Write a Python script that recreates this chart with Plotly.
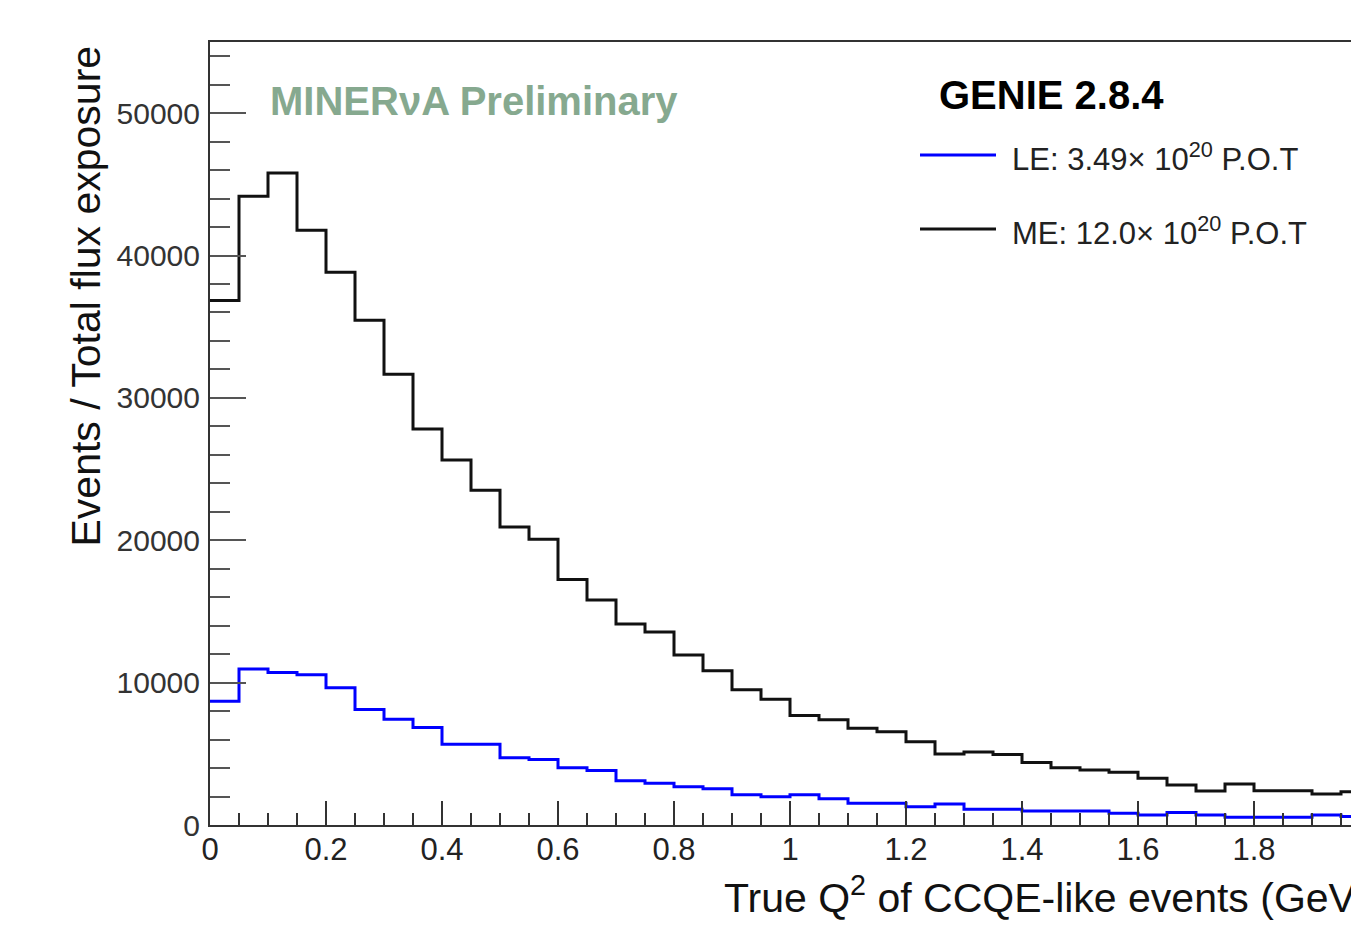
import plotly.graph_objects as go

# Histogram bin edges (GeV^2), 0.05 wide
bin_width = 0.05
n_bins = 40
edges = [round(i * bin_width, 2) for i in range(n_bins + 1)]

# LE: 3.49e20 POT (blue)
le_values = [8700, 10950, 10720, 10560, 9640, 8120, 7420, 6840, 5670, 5670,
             4730, 4600, 4030, 3820, 3110, 2930, 2690, 2550, 2130, 1990,
             2130, 1850, 1520, 1520, 1290, 1470, 1100, 1100, 980, 980,
             980, 820, 700, 870, 700, 540, 540, 540, 700, 590]

# ME: 12.0e20 POT (black)
me_values = [36850, 44170, 45790, 41780, 38830, 35460, 31670, 27810, 25630, 23520,
             20930, 20080, 17250, 15800, 14115, 13550, 11940, 10830, 9500, 8830,
             7690, 7400, 6800, 6550, 5850, 4980, 5120, 4960, 4390, 4030,
             3860, 3700, 3280, 2810, 2390, 2880, 2410, 2410, 2180, 2340]

x_ticks = [0, 0.2, 0.4, 0.6, 0.8, 1, 1.2, 1.4, 1.6, 1.8]
x_tick_text = ["0", "0.2", "0.4", "0.6", "0.8", "1", "1.2", "1.4", "1.6", "1.8"]
y_ticks = [0, 10000, 20000, 30000, 40000, 50000]
y_tick_text = ["0", "10000", "20000", "30000", "40000", "50000"]

FONT = "Liberation Sans, Arial, Helvetica, sans-serif"


def step_xy(vals):
    xs = edges[:-1] + [edges[-1]]
    ys = list(vals) + [vals[-1]]
    return xs, ys


fig = go.Figure()
lx, ly = step_xy(le_values)
mx, my = step_xy(me_values)
fig.add_trace(go.Scatter(x=lx, y=ly, mode="lines", line=dict(color="#0000ff", width=3, shape="hv"),
                         name="LE: 3.49× 10<sup>20</sup> P.O.T", showlegend=False))
fig.add_trace(go.Scatter(x=mx, y=my, mode="lines", line=dict(color="#111111", width=3, shape="hv"),
                         name="ME: 12.0× 10<sup>20</sup> P.O.T", showlegend=False))

W, H = 1351, 927
L, R, T, B = 210, 0, 42, 102
pw = W - L - R
ph = H - T - B


def px2paper_x(px):
    return (px - L) / pw


def px2paper_y(py):
    return (H - B - py) / ph


fig.update_layout(
    width=W, height=H,
    margin=dict(l=L, r=R, t=T, b=B, pad=0),
    paper_bgcolor="white", plot_bgcolor="white",
    font=dict(family=FONT, color="#222"),
    showlegend=False,
    xaxis=dict(
        range=[0, (W - L) / 580.0], showgrid=False, zeroline=False,
        showline=True, linecolor="#333", linewidth=2, mirror=True,
        ticks="inside", ticklen=24, tickwidth=2, tickcolor="#333",
        tickvals=x_ticks, ticktext=x_tick_text,
        tickfont=dict(size=31, color="#222", family=FONT),
        minor=dict(dtick=0.05, ticks="inside", ticklen=12, tickwidth=2, tickcolor="#333", showgrid=False),
        ticklabelstandoff=-4,
    ),
    yaxis=dict(
        range=[0, 55000], showgrid=False, zeroline=False,
        showline=True, linecolor="#333", linewidth=2, mirror=False,
        ticks="inside", ticklen=36, tickwidth=2, tickcolor="#555",
        tickvals=y_ticks, ticktext=y_tick_text,
        tickfont=dict(size=30, color="#333", family=FONT),
        minor=dict(dtick=2000, ticks="inside", ticklen=20, tickwidth=2, tickcolor="#555", showgrid=False),
        ticklabelstandoff=2,
    ),
)

annotations = [
    dict(text="True Q<sup>2</sup> of CCQE-like events (GeV<sup>2</sup>)",
         x=px2paper_x(722), y=px2paper_y(895), xref="paper", yref="paper",
         xanchor="left", yanchor="middle", showarrow=False,
         font=dict(size=41, color="#111", family=FONT)),
    dict(text="Events / Total flux exposure", textangle=-90,
         x=px2paper_x(85), y=px2paper_y(44), xref="paper", yref="paper",
         xanchor="center", yanchor="top", showarrow=False,
         font=dict(size=41, color="#111", family=FONT)),
    dict(text="<b>MINERνA Preliminary</b>",
         x=px2paper_x(268), y=px2paper_y(101), xref="paper", yref="paper",
         xanchor="left", yanchor="middle", showarrow=False,
         font=dict(size=40, color="#86a98f", family=FONT)),
    dict(text="<b>GENIE 2.8.4</b>",
         x=px2paper_x(937), y=px2paper_y(95), xref="paper", yref="paper",
         xanchor="left", yanchor="middle", showarrow=False,
         font=dict(size=40, color="#000", family=FONT)),
    dict(text="LE: 3.49× 10<sup>20</sup> P.O.T",
         x=px2paper_x(1010), y=px2paper_y(157), xref="paper", yref="paper",
         xanchor="left", yanchor="middle", showarrow=False,
         font=dict(size=31, color="#222", family=FONT)),
    dict(text="ME: 12.0× 10<sup>20</sup> P.O.T",
         x=px2paper_x(1010), y=px2paper_y(231), xref="paper", yref="paper",
         xanchor="left", yanchor="middle", showarrow=False,
         font=dict(size=31, color="#222", family=FONT)),
]
fig.update_layout(annotations=annotations)

shapes = [
    dict(type="line", xref="paper", yref="paper",
         x0=px2paper_x(920), x1=px2paper_x(996), y0=px2paper_y(155), y1=px2paper_y(155),
         line=dict(color="#0000ff", width=3)),
    dict(type="line", xref="paper", yref="paper",
         x0=px2paper_x(920), x1=px2paper_x(996), y0=px2paper_y(229), y1=px2paper_y(229),
         line=dict(color="#111111", width=3)),
]
fig.update_layout(shapes=shapes)

fig.write_html("out.html")
